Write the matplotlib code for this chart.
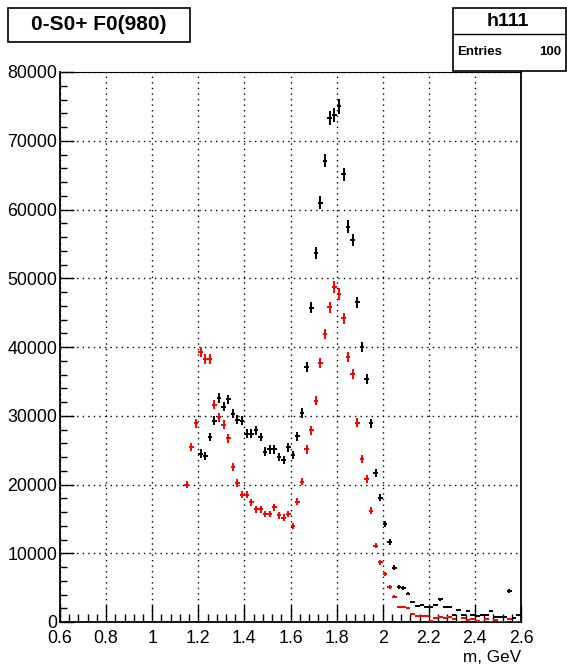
import numpy as np
import matplotlib
matplotlib.use("Agg")
import matplotlib.pyplot as plt
from matplotlib.patches import Rectangle
from matplotlib.ticker import MultipleLocator, FuncFormatter

plt.rcParams['font.family'] = ['Liberation Sans', 'DejaVu Sans']

# ---- data -------------------------------------------------------------
bin_width = 0.02
black_start, black_stop = 1.21, 2.59
black_y = [24500, 24200, 26900, 29300, 32600, 31300, 32400, 30300, 29400, 29300,
           27400, 27400, 27900, 26900, 24800, 25100, 25100, 24000, 23500, 25400,
           24300, 27000, 30400, 37100, 45700, 53700, 61000, 67100, 73300, 73800,
           75000, 65100, 57500, 55600, 46500, 40000, 35300, 28900, 21700, 18100,
           14300, 11600, 7900, 5100, 4900, 4100, 2900, 2300, 2500, 2200,
           2200, 2500, 3300, 2200, 2200, 1000, 1700, 1000, 1600, 1000,
           900, 1000, 1000, 1600, 700, 700, 700, 4500, 600, 1000]
red_start, red_stop = 1.15, 2.59
red_y = [20000, 25500, 28900, 39300, 38200, 38300, 31600, 29800, 28700, 26700,
         22500, 20200, 18500, 18500, 17400, 16400, 16400, 15700, 15700, 16700,
         15500, 15200, 15700, 14000, 17500, 20400, 25100, 27900, 32200, 37700,
         41900, 45800, 48700, 47700, 44200, 38500, 36100, 29000, 23700, 20800,
         16200, 11100, 8700, 7000, 5100, 3700, 2200, 2200, 2000, 1200,
         900, 850, 850, 200, 550, 800, 550, 800, 450, 50,
         550, 300, 400, 200, 50, 500, 50, 300, 50, 50,
         400, 50, 50]
x_label = "m, GeV"
title = "0-S0+ F0(980)"
stats_name = "h111"
stats_entries = "100"

# ---- figure -----------------------------------------------------------
W, H = 567, 667
fig = plt.figure(figsize=(W / 100, H / 100), dpi=100)
L, R, T, B = 60, 521, 72, 622
ax = fig.add_axes([L / W, 1 - B / H, (R - L) / W, (B - T) / H])

def centers(a, b):
    n = int(round((b - a) / bin_width)) + 1
    return a + bin_width * np.arange(n)

bx = centers(black_start, black_stop)
rx = centers(red_start, red_stop)
by = np.array(black_y, float)
ry = np.array(red_y, float)

ax.errorbar(bx, by, xerr=bin_width / 2, yerr=3.8 * np.sqrt(by), fmt='none',
            ecolor='black', elinewidth=1.4, capsize=0, zorder=3)
ax.errorbar(rx, ry, xerr=bin_width / 2, yerr=3.8 * np.sqrt(ry), fmt='none',
            ecolor='#ff0000', elinewidth=1.4, capsize=0, zorder=3)

ax.set_xlim(0.6, 2.6)
ax.set_ylim(0, 80000)
ax.xaxis.set_major_locator(MultipleLocator(0.2))
ax.xaxis.set_minor_locator(MultipleLocator(0.04))
ax.yaxis.set_major_locator(MultipleLocator(10000))
ax.yaxis.set_minor_locator(MultipleLocator(2000))
ax.xaxis.set_major_formatter(FuncFormatter(lambda v, p: f"{v:g}"))
ax.yaxis.set_major_formatter(FuncFormatter(lambda v, p: f"{v:.0f}"))
ax.tick_params(axis='x', which='major', direction='in', length=11.9, width=1.0,
               labelsize=12.8, pad=6, top=False)
ax.tick_params(axis='x', which='minor', direction='in', length=6.0, width=1.0, top=False)
ax.tick_params(axis='y', which='major', direction='in', length=9.9, width=1.0,
               labelsize=12.8, pad=2, right=False)
ax.tick_params(axis='y', which='minor', direction='in', length=5.0, width=1.0, right=False)

ax.grid(True, which='major', linestyle=(0, (1, 3)), color='black', linewidth=1.0)
for s in ['left', 'bottom', 'right']:
    ax.spines[s].set_linewidth(1.3)
ax.spines['top'].set_linewidth(0.8)

ax.text(1.0, -0.05, x_label, transform=ax.transAxes, ha='right', va='top', fontsize=12.3)

# ---- title box --------------------------------------------------------
def fx(px):
    return px / W

def fy(py):
    return 1 - py / H

fig.add_artist(Rectangle((fx(8), fy(42)), fx(190) - fx(8), fy(8) - fy(42),
                         transform=fig.transFigure, fill=False, edgecolor='black', lw=1.2))
fig.text(fx(99), fy(25), title, ha='center', va='center', fontsize=15, fontweight='bold')

# ---- stats box --------------------------------------------------------
fig.add_artist(Rectangle((fx(453), fy(71)), fx(566) - fx(453), fy(8) - fy(71),
                         transform=fig.transFigure, fill=False, edgecolor='black', lw=1.2))
fig.add_artist(plt.Line2D([fx(453), fx(566)], [fy(34), fy(34)], transform=fig.transFigure,
                          color='black', lw=1.0))
fig.text(fx(508), fy(21), stats_name, ha='center', va='center', fontsize=14, fontweight='bold')
fig.text(fx(457), fy(52), "Entries", ha='left', va='center', fontsize=9.5, fontweight='bold')
fig.text(fx(561), fy(52), stats_entries, ha='right', va='center', fontsize=9.5, fontweight='bold')

fig.savefig("out.png", dpi=100)
